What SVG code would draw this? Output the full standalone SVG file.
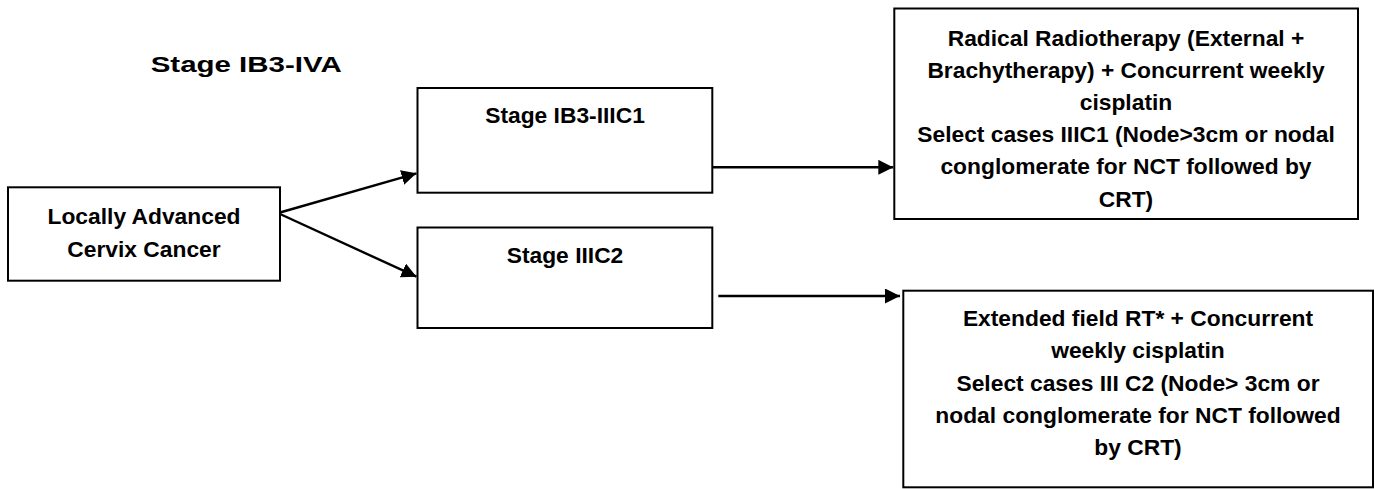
<svg xmlns="http://www.w3.org/2000/svg" width="1375" height="489" viewBox="0 0 1375 489">
<defs>
<style>
.box{fill:#fff;stroke:#000;stroke-width:2}
.t{font-family:"Liberation Sans",Arial,sans-serif;font-weight:bold;font-size:22.8px;fill:#000;text-anchor:middle}
.title{font-family:"Liberation Sans",Arial,sans-serif;font-weight:bold;font-size:22px;fill:#000}
.conn{stroke:#000;stroke-width:2.4;fill:none}
</style>
<marker id="ah" viewBox="0 0 10 10" refX="10" refY="5" markerUnits="userSpaceOnUse" markerWidth="15" markerHeight="15" orient="auto" preserveAspectRatio="none">
<path d="M0,0 L10,5 L0,10 Z" fill="#000"/>
</marker>
</defs>
<rect width="1375" height="489" fill="#fff"/>
<text class="title" x="150.7" y="71.7" textLength="191" lengthAdjust="spacingAndGlyphs">Stage IB3-IVA</text>
<g id="connectors">
<line class="conn" x1="280" y1="212.5" x2="416.5" y2="173.3" marker-end="url(#ah)"/>
<line class="conn" x1="280" y1="214" x2="416.5" y2="276.7" marker-end="url(#ah)"/>
<line class="conn" x1="712.3" y1="167.3" x2="893.3" y2="167.3" marker-end="url(#ah)"/>
<line class="conn" x1="718.3" y1="296" x2="900" y2="296" marker-end="url(#ah)"/>
</g>
<g id="node-lacc">
<rect class="box" x="8" y="187.3" width="272" height="93.4"/>
<text class="t" x="144" y="224">Locally Advanced</text>
<text class="t" x="144" y="257">Cervix Cancer</text>
</g>
<g id="node-ib3">
<rect class="box" x="417.5" y="88" width="294.8" height="104.7"/>
<text class="t" x="565" y="123">Stage IB3-IIIC1</text>
</g>
<g id="node-iiic2">
<rect class="box" x="417.5" y="227.5" width="294.8" height="100.5"/>
<text class="t" x="565" y="263">Stage IIIC2</text>
</g>
<g id="node-radical">
<rect class="box" x="894.3" y="8.5" width="463.7" height="210.5"/>
<text class="t" x="1126" y="45.5">Radical Radiotherapy (External +</text>
<text class="t" x="1126" y="77.7">Brachytherapy) + Concurrent weekly</text>
<text class="t" x="1126" y="109.9">cisplatin</text>
<text class="t" x="1126" y="142.1">Select cases IIIC1 (Node&gt;3cm or nodal</text>
<text class="t" x="1126" y="174.3">conglomerate for NCT followed by</text>
<text class="t" x="1126" y="206.5">CRT)</text>
</g>
<g id="node-extended">
<rect class="box" x="903.3" y="290.7" width="469.7" height="196.6"/>
<text class="t" x="1138" y="326">Extended field RT* + Concurrent</text>
<text class="t" x="1138" y="358.3">weekly cisplatin</text>
<text class="t" x="1138" y="390.6">Select cases III C2 (Node&gt; 3cm or</text>
<text class="t" x="1138" y="422.9">nodal conglomerate for NCT followed</text>
<text class="t" x="1138" y="455.2">by CRT)</text>
</g>
</svg>
